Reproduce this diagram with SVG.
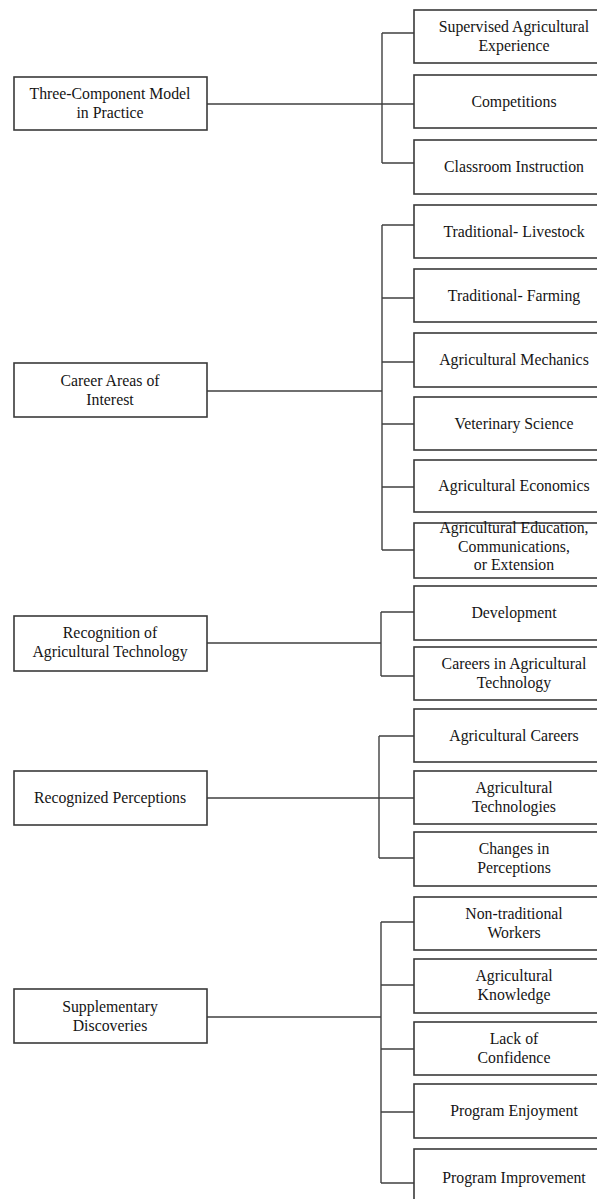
<svg xmlns="http://www.w3.org/2000/svg" width="597" height="1199" viewBox="0 0 597 1199">
<style>
.box{fill:#fff;stroke:#3a3a3a;stroke-width:1.6}
.t{font-family:"Liberation Serif","Times New Roman",serif;font-size:15.8px;fill:#151515;text-anchor:middle}
.c{fill:none;stroke:#404040;stroke-width:1.4}
</style>
<rect width="597" height="1199" fill="#fff"/>
<g id="connectors">
<path class="c" d="M207,104H414M382,33V163M382,33H414M382,163H414"/>
<path class="c" d="M207,391H382M382,225V550M382,225H414M382,298H414M382,362H414M382,424H414M382,487H414M382,550H414"/>
<path class="c" d="M207,643H381M381,612V676M381,612H414M381,676H414"/>
<path class="c" d="M207,798H414M379,736V858M379,736H414M379,858H414"/>
<path class="c" d="M207,1017H381M381,922V1183M381,922H414M381,985H414M381,1049H414M381,1112H414M381,1183H414"/>
</g>
<g id="p1"><rect class="box" x="14" y="77" width="193" height="53"/><text class="t" x="110" y="99">Three-Component Model</text><text class="t" x="110" y="118">in Practice</text></g>
<g id="c1a"><rect class="box" x="414" y="10" width="200" height="53"/><text class="t" x="514" y="32">Supervised Agricultural</text><text class="t" x="514" y="51">Experience</text></g>
<g id="c1b"><rect class="box" x="414" y="75" width="200" height="53"/><text class="t" x="514" y="107">Competitions</text></g>
<g id="c1c"><rect class="box" x="414" y="140" width="200" height="54"/><text class="t" x="514" y="172">Classroom Instruction</text></g>

<g id="p2"><rect class="box" x="14" y="363" width="193" height="54"/><text class="t" x="110" y="386">Career Areas of</text><text class="t" x="110" y="405">Interest</text></g>
<g id="c2a"><rect class="box" x="414" y="205" width="200" height="53"/><text class="t" x="514" y="237">Traditional- Livestock</text></g>
<g id="c2b"><rect class="box" x="414" y="269" width="200" height="53"/><text class="t" x="514" y="301">Traditional- Farming</text></g>
<g id="c2c"><rect class="box" x="414" y="333" width="200" height="54"/><text class="t" x="514" y="365">Agricultural Mechanics</text></g>
<g id="c2d"><rect class="box" x="414" y="397" width="200" height="53"/><text class="t" x="514" y="429">Veterinary Science</text></g>
<g id="c2e"><rect class="box" x="414" y="460" width="200" height="52"/><text class="t" x="514" y="491">Agricultural Economics</text></g>
<g id="c2f"><rect class="box" x="414" y="523" width="200" height="55"/><text class="t" x="514" y="533">Agricultural Education,</text><text class="t" x="514" y="552">Communications,</text><text class="t" x="514" y="570">or Extension</text></g>

<g id="p3"><rect class="box" x="14" y="616" width="193" height="55"/><text class="t" x="110" y="638">Recognition of</text><text class="t" x="110" y="657">Agricultural Technology</text></g>
<g id="c3a"><rect class="box" x="414" y="586" width="200" height="54"/><text class="t" x="514" y="618">Development</text></g>
<g id="c3b"><rect class="box" x="414" y="647" width="200" height="53"/><text class="t" x="514" y="669">Careers in Agricultural</text><text class="t" x="514" y="688">Technology</text></g>

<g id="p4"><rect class="box" x="14" y="771" width="193" height="54"/><text class="t" x="110" y="803">Recognized Perceptions</text></g>
<g id="c4a"><rect class="box" x="414" y="709" width="200" height="53"/><text class="t" x="514" y="741">Agricultural Careers</text></g>
<g id="c4b"><rect class="box" x="414" y="771" width="200" height="53"/><text class="t" x="514" y="793">Agricultural</text><text class="t" x="514" y="812">Technologies</text></g>
<g id="c4c"><rect class="box" x="414" y="832" width="200" height="54"/><text class="t" x="514" y="854">Changes in</text><text class="t" x="514" y="873">Perceptions</text></g>

<g id="p5"><rect class="box" x="14" y="989" width="193" height="54"/><text class="t" x="110" y="1012">Supplementary</text><text class="t" x="110" y="1031">Discoveries</text></g>
<g id="c5a"><rect class="box" x="414" y="897" width="200" height="53"/><text class="t" x="514" y="919">Non-traditional</text><text class="t" x="514" y="938">Workers</text></g>
<g id="c5b"><rect class="box" x="414" y="959" width="200" height="54"/><text class="t" x="514" y="981">Agricultural</text><text class="t" x="514" y="1000">Knowledge</text></g>
<g id="c5c"><rect class="box" x="414" y="1022" width="200" height="53"/><text class="t" x="514" y="1044">Lack of</text><text class="t" x="514" y="1063">Confidence</text></g>
<g id="c5d"><rect class="box" x="414" y="1084" width="200" height="54"/><text class="t" x="514" y="1116">Program Enjoyment</text></g>
<g id="c5e"><rect class="box" x="414" y="1149" width="200" height="56"/><text class="t" x="514" y="1183">Program Improvement</text></g>
</svg>
